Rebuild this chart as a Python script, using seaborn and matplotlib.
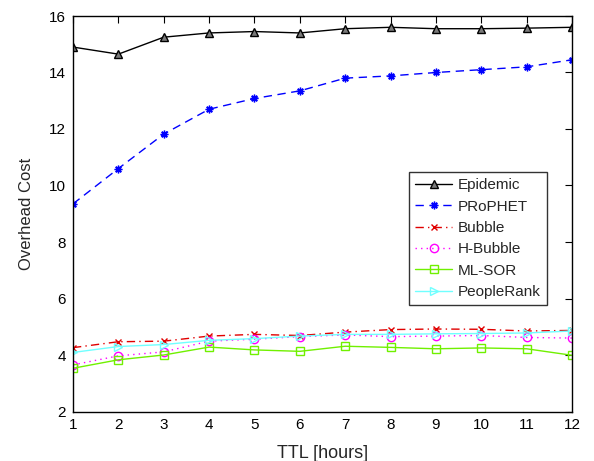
import numpy as np
import pandas as pd
import matplotlib
matplotlib.use("Agg")
import matplotlib.pyplot as plt
import seaborn as sns

ttl_hours = list(range(1, 13))

epidemic   = [14.90, 14.65, 15.25, 15.40, 15.45, 15.40, 15.55, 15.60, 15.55, 15.55, 15.57, 15.60]
prophet    = [9.35, 10.60, 11.82, 12.70, 13.08, 13.35, 13.80, 13.88, 14.00, 14.10, 14.20, 14.45]
bubble     = [4.26, 4.47, 4.49, 4.67, 4.73, 4.69, 4.81, 4.90, 4.92, 4.91, 4.85, 4.87]
h_bubble   = [3.65, 3.97, 4.11, 4.49, 4.56, 4.65, 4.71, 4.65, 4.67, 4.69, 4.62, 4.60]
ml_sor     = [3.53, 3.83, 4.00, 4.28, 4.18, 4.13, 4.31, 4.27, 4.22, 4.25, 4.22, 3.99]
peoplerank = [4.09, 4.30, 4.37, 4.52, 4.58, 4.67, 4.73, 4.73, 4.75, 4.76, 4.78, 4.85]

series_names = ["Epidemic", "PRoPHET", "Bubble", "H-Bubble", "ML-SOR", "PeopleRank"]
series_values = [epidemic, prophet, bubble, h_bubble, ml_sor, peoplerank]

df = pd.DataFrame({
    "TTL": np.tile(ttl_hours, len(series_names)),
    "Cost": np.concatenate(series_values),
    "Protocol": np.repeat(series_names, len(ttl_hours)),
})

# line colour, dash pattern, marker, marker face, marker size
styles = {
    "Epidemic":   dict(color="black",   ls="-",  marker="^", mfc="#7a7a7a", ms=6),
    "PRoPHET":    dict(color="#0000ff", ls=(0, (6, 4)), marker=(8, 2, 0), mfc="#0000ff", ms=5.5),
    "Bubble":     dict(color="#e00000", ls=(0, (6, 3, 1, 3)), marker="x", mfc="#e00000", ms=4.5),
    "H-Bubble":   dict(color="#ff00ff", ls=(0, (1, 3)), marker="o", mfc="none", ms=6),
    "ML-SOR":     dict(color="#70f000", ls="-",  marker="s", mfc="none", ms=5.5),
    "PeopleRank": dict(color="#70ffff", ls="-",  marker=">", mfc="none", ms=6),
}

sns.set_style("white")
plt.rcParams["font.family"] = ["Liberation Sans", "DejaVu Sans"]

fig = plt.figure(figsize=(5.94, 4.61), dpi=100)
ax = fig.add_axes([73 / 594, 1 - 411.5 / 461, 499 / 594, 395.5 / 461])

for name in series_names:
    st = styles[name]
    sub = df[df["Protocol"] == name]
    sns.lineplot(data=sub, x="TTL", y="Cost", ax=ax, label=name,
                 color=st["color"], linestyle=st["ls"], linewidth=1.0,
                 marker=st["marker"], markersize=st["ms"],
                 markerfacecolor=st["mfc"], markeredgecolor=st["color"],
                 markeredgewidth=1.0, estimator=None, errorbar=None)

ax.set_xlim(1, 12)
ax.set_ylim(2, 16)
ax.set_xticks(ttl_hours)
ax.set_yticks(range(2, 17, 2))
ax.tick_params(direction="in", length=5, width=0.8, top=True, right=True,
               labelsize=11, colors="black", pad=5)
for sp in ax.spines.values():
    sp.set_color("black")
    sp.set_linewidth(1.0)

ax.set_xlabel("TTL [hours]", fontsize=13, labelpad=9)
ax.set_ylabel("Overhead Cost", fontsize=12, labelpad=11)

leg = ax.legend(loc="lower right", bbox_to_anchor=(0.95, 0.269), fontsize=11,
                frameon=True, fancybox=False, edgecolor="black",
                handlelength=2.4, handletextpad=0.4, labelspacing=0.48,
                borderpad=0.4, borderaxespad=0)
leg.get_frame().set_linewidth(1.0)

fig.savefig("out.png", dpi=100)
